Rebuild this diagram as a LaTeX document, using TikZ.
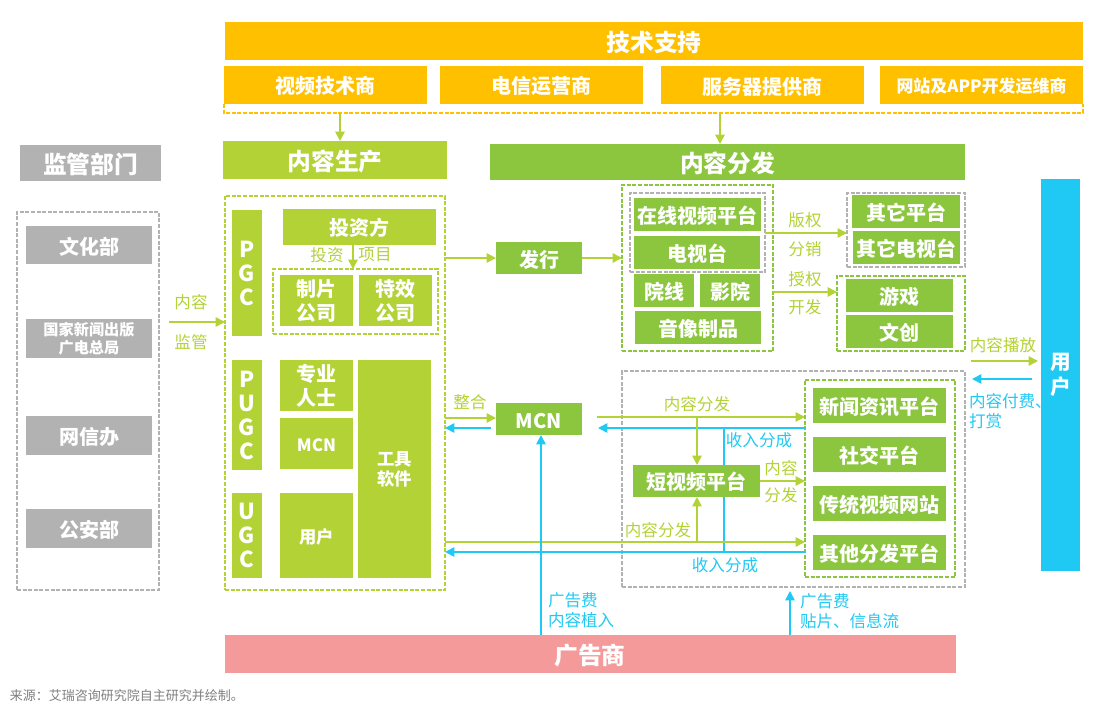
\documentclass[tikz,border=0pt]{standalone}
\usepackage{fontspec}
\setmainfont{Noto Sans CJK SC}
\usetikzlibrary{arrows.meta}
\definecolor{cyel}{HTML}{FFC000}
\definecolor{clime}{HTML}{B2D235}
\definecolor{cgrn}{HTML}{8CC63F}
\definecolor{cgry}{HTML}{B2B2B2}
\definecolor{cpnk}{HTML}{F59A9A}
\definecolor{cblu}{HTML}{1FC9F3}
\definecolor{csrc}{HTML}{7F7F7F}
\newcommand{\FS}[2]{\fontsize{#1pt}{#2pt}\selectfont}
\newcommand{\rbx}[6][]{%
  \pgfmathsetmacro{\rcx}{(#3+#5)/2}\pgfmathsetmacro{\rcy}{(#4+#6)/2}%
  \pgfmathsetmacro{\rw}{(#5-#3)*0.75}\pgfmathsetmacro{\rh}{(#6-#4)*0.75}%
  \node[minimum width=\rw pt,minimum height=\rh pt,#1] (#2) at (\rcx,\rcy)}
\tikzset{
  x=0.75pt,y=-0.75pt,
  every node/.style={inner sep=0pt,outer sep=0pt,align=center},
  solidbox/.style={fill=#1,text=white,font=\FS{15}{18}\bfseries,execute at begin node={\rule{0pt}{1em}}},
  dashbox/.style={draw=#1,dashed,dash pattern=on 3pt off 1.2pt,line width=1pt},
  big/.style={font=\FS{17.8}{20}\bfseries},
  small/.style={font=\FS{11.4}{13.5}\bfseries},
  mid/.style={font=\FS{13}{15}\bfseries},
  letters/.style={font=\FS{16.5}{18}\bfseries,execute at begin node={}},
  lat/.style={font=\FS{#1}{16}\bfseries,execute at begin node={\rule{0pt}{.85em}}},
  lbl/.style={text=#1,font=\FS{12.4}{15}},
  gline/.style={draw=clime,line width=1.2pt,-{Triangle[length=7pt,width=7pt]}},
  bline/.style={draw=cblu,line width=1.2pt,-{Triangle[length=7pt,width=7pt]}},
  bplain/.style={draw=cblu,line width=1.2pt},
}
\begin{document}
\begin{tikzpicture}
\useasboundingbox (0,0) rectangle (1097,712);
% dashed groups
\rbx[dashbox=cgry]{regrp}{17}{212}{159}{590}{}{};
\rbx[dashbox=clime]{prod}{225}{196}{445}{590}{}{};
\rbx[dashbox=clime]{cogrp}{273}{269}{438}{334}{}{};
\rbx[dashbox=cgrn]{distgrp}{622}{185}{773}{351}{}{};
\rbx[dashbox=cgry]{tvgrp}{630}{193}{765}{272}{}{};
\rbx[dashbox=cgry]{othgrp}{847}{193}{965}{267}{}{};
\rbx[dashbox=cgrn]{licgrp}{837}{276}{965}{351}{}{};
\rbx[dashbox=cgry]{netgrp}{622}{371}{965}{587}{}{};
\rbx[dashbox=cgrn]{platgrp}{805}{380}{955}{577}{}{};
% top
\rbx[solidbox=cyel,big]{tech}{225}{22}{1083}{60}{技术支持};
\rbx[solidbox=cyel]{t1}{224}{66}{427}{104}{视频技术商};
\rbx[solidbox=cyel]{t2}{440}{66}{643}{104}{电信运营商};
\rbx[solidbox=cyel]{t3}{661}{66}{864}{104}{服务器提供商};
\rbx[solidbox=cyel,font=\FS{12.7}{16}\bfseries]{t4}{880}{66}{1083}{104}{网站及APP开发运维商};
\draw[dashbox=cyel] (t1.south west) |- (t4.south east |- 0,113) -- (t4.south east);
\rbx[solidbox=clime,big]{shead}{223}{141}{447}{179}{内容生产};
\rbx[solidbox=cgrn,big]{dhead}{490}{144}{965}{180}{内容分发};
% regulators
\rbx[solidbox=cgry,big]{rhead}{20}{145}{161}{181}{监管部门};
\rbx[solidbox=cgry]{r1}{26}{226}{152}{264}{文化部};
\rbx[solidbox=cgry,small]{r2}{26}{319}{152}{358}{国家新闻出版\\广电总局};
\rbx[solidbox=cgry]{r3}{26}{416}{152}{455}{网信办};
\rbx[solidbox=cgry]{r4}{26}{509}{152}{548}{公安部};
% production
\rbx[solidbox=clime,letters]{pgc}{232}{210}{262}{336}{P\\G\\C};
\rbx[solidbox=clime]{inv}{283}{209}{436}{245}{投资方};
\rbx[solidbox=clime]{zp}{280}{275}{353}{326}{制片\\公司};
\rbx[solidbox=clime]{tx}{359}{275}{432}{326}{特效\\公司};
\rbx[solidbox=clime,letters]{pugc}{232}{360}{262}{470}{P\\U\\G\\C};
\rbx[solidbox=clime]{zy}{280}{360}{353}{411}{专业\\人士};
\rbx[solidbox=clime,lat=12.7]{mcnb}{280}{418}{353}{469}{MCN};
\rbx[solidbox=clime,letters]{ugc}{232}{493}{262}{578}{U\\G\\C};
\rbx[solidbox=clime,mid]{yh}{280}{493}{353}{578}{用户};
\rbx[solidbox=clime,mid]{gj}{358}{360}{431}{578}{工具\\软件};
% distribution
\rbx[solidbox=cgrn]{fx}{496}{242}{582}{274}{发行};
\rbx[solidbox=cgrn]{d1}{634}{198}{761}{231}{在线视频平台};
\rbx[solidbox=cgrn]{d2}{634}{236}{760}{269}{电视台};
\rbx[solidbox=cgrn]{d3}{634}{274}{694}{307}{院线};
\rbx[solidbox=cgrn]{d4}{700}{274}{760}{307}{影院};
\rbx[solidbox=cgrn]{d5}{635}{311}{761}{344}{音像制品};
\rbx[solidbox=cgrn]{o1}{852}{195}{960}{228}{其它平台};
\rbx[solidbox=cgrn]{o2}{853}{231}{960}{264}{其它电视台};
\rbx[solidbox=cgrn]{g1}{846}{279}{953}{312}{游戏};
\rbx[solidbox=cgrn]{g2}{846}{315}{953}{348}{文创};
\rbx[solidbox=cgrn,lat=15]{mcn}{496}{403}{582}{435}{MCN};
\rbx[solidbox=cgrn]{sv}{633}{465}{760}{497}{短视频平台};
\rbx[solidbox=cgrn]{p1}{813}{388}{946}{423}{新闻资讯平台};
\rbx[solidbox=cgrn]{p2}{813}{437}{946}{472}{社交平台};
\rbx[solidbox=cgrn]{p3}{813}{486}{946}{521}{传统视频网站};
\rbx[solidbox=cgrn]{p4}{813}{535}{946}{570}{其他分发平台};
\rbx[solidbox=cblu,font=\FS{15.5}{19}\bfseries]{user}{1041}{179}{1080}{571}{用\\户};
\rbx[solidbox=cpnk,big]{ad}{225}{635}{956}{673}{};
\node[text=white,big] (adt) at (590,656) {广告商};
% free ends
\coordinate (a1) at (340,113);
\coordinate (a2) at (720,113);
\coordinate (b1) at (169,322);
\coordinate (c1) at (971,361);
\coordinate (c2) at (1038,361);
\coordinate (c3) at (1032,379);
\coordinate (c4) at (972,379);
\coordinate (m1) at (491,428);
\coordinate (m2) at (597,417);
\coordinate (m3) at (598,428);
\coordinate (j1) at (697,417);
\coordinate (j2) at (697,542);
\coordinate (j3) at (724,428);
\coordinate (j4) at (724,552);
\coordinate (k1) at (790,591);
\coordinate (i1) at (353,245);
% connectors
\draw[gline] (a1) -- (a1 |- shead.north);
\draw[gline] (a2) -- (a2 |- dhead.north);
\draw[gline] (b1) -- (b1 -| prod.west);
\draw[gline] (i1) -- (i1 |- cogrp.north);
\draw[gline] (prod.east |- fx.west) -- (fx.west);
\draw[gline] (fx.east) -- (fx.east -| distgrp.west);
\draw[gline] (tvgrp.east |- 0,233) -- (othgrp.west |- 0,233);
\draw[gline] (distgrp.east |- 0,292) -- (licgrp.west |- 0,292);
\draw[gline] (c1) -- (c2);
\draw[bline] (c3) -- (c4);
\draw[gline] (prod.east |- 0,418) -- (mcn.west |- 0,418);
\draw[bline] (m1) -- (prod.east |- m1);
\draw[gline] (m2) -- (platgrp.west |- m2);
\draw[bline] (platgrp.west |- m3) -- (m3);
\draw[gline] (j1) -- (j1 |- sv.north);
\draw[bplain] (j3) -- (j3 |- sv.north);
\draw[gline] (j2) -- (j2 |- sv.south);
\draw[bplain] (j3 |- sv.south) -- (j4);
\draw[gline] (sv.east) -- (sv.east -| platgrp.west);
\draw[gline] (prod.east |- 0,542) -- (platgrp.west |- 0,542);
\draw[bline] (platgrp.west |- j4) -- (prod.east |- j4);
\draw[bline] (541,635) -- (mcn.south -| 541,0);
\draw[bline] (k1 |- ad.north) -- (k1);
% labels
\node[lbl=clime] (l1) at (191,302) {内容};
\node[lbl=clime] (l2) at (191,342) {监管};
\node[lbl=clime] (l3) at (327,255) {投资};
\node[lbl=clime] (l4) at (375,255) {项目};
\node[lbl=clime] (l5) at (805,220) {版权};
\node[lbl=clime] (l6) at (805,249) {分销};
\node[lbl=clime] (l7) at (805,279) {授权};
\node[lbl=clime] (l8) at (805,307) {开发};
\node[lbl=clime] (l9) at (1003,345) {内容播放};
\node[lbl=cblu,align=left,anchor=west] (l10) at (969,411) {内容付费、\\打赏};
\node[lbl=clime] (l11) at (470,402) {整合};
\node[lbl=clime] (l12) at (697,404) {内容分发};
\node[lbl=cblu] (l13) at (759,440) {收入分成};
\node[lbl=clime] (l14) at (781,468) {内容};
\node[lbl=clime] (l15) at (781,495) {分发};
\node[lbl=clime] (l16) at (658,530) {内容分发};
\node[lbl=cblu] (l17) at (725,565) {收入分成};
\node[lbl=cblu,align=left,anchor=west] (l18) at (548,610) {广告费\\内容植入};
\node[lbl=cblu,align=left,anchor=west] (l19) at (800,611) {广告费\\贴片、信息流};
\node[text=csrc,font=\FS{9.75}{13},anchor=west] (src) at (10,696) {来源：艾瑞咨询研究院自主研究并绘制。};
\end{tikzpicture}
\end{document}
